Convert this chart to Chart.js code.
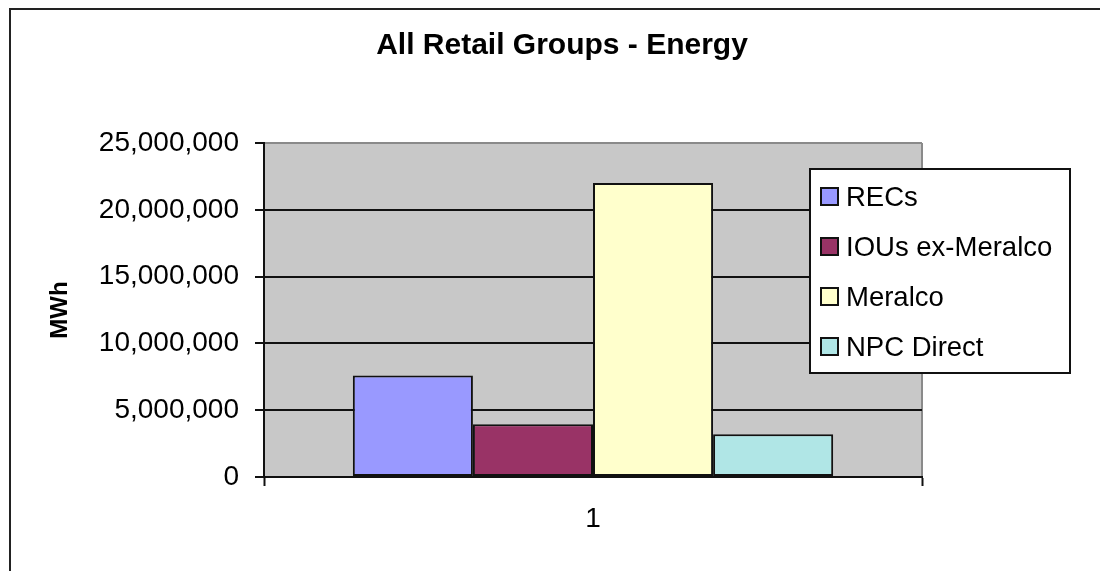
<!DOCTYPE html>
<html>
<head>
<meta charset="utf-8">
<script src="https://cdn.jsdelivr.net/npm/chart.js@4"></script>
<style>
  html, body { margin: 0; padding: 0; background: #fff; }
  #wrap { width: 1100px; height: 571px; }
</style>
</head>
<body>
<div id="wrap"><canvas id="chart" width="1100" height="571"></canvas></div>
<script>
// Chart data
const chartTitle = 'All Retail Groups - Energy';
const categories = ['1'];
const seriesNames = ['RECs', 'IOUs ex-Meralco', 'Meralco', 'NPC Direct'];
const seriesValues = [[7600000], [3950000], [22000000], [3200000]];
const seriesColors = ['#9999ff', '#993366', '#ffffcc', '#b0e6e6'];
const yTicks = [0, 5000000, 10000000, 15000000, 20000000, 25000000];

const FONT = "'Liberation Sans', Arial, sans-serif";

// Background, plot area fill, outer frame, title
const framePlugin = {
    id: 'frame',
    beforeDraw(chart) {
        const { ctx, chartArea: a } = chart;
        ctx.save();
        ctx.fillStyle = '#fff';
        ctx.fillRect(0, 0, chart.width, chart.height);
        ctx.strokeStyle = '#222';
        ctx.lineWidth = 2;
        ctx.strokeRect(10, 9, 1300, 800);
        ctx.fillStyle = '#c8c8c8';
        ctx.fillRect(a.left, a.top, a.right - a.left, a.bottom - a.top);
        ctx.strokeStyle = '#8a8a8a';
        ctx.lineWidth = 2;
        ctx.beginPath();
        ctx.moveTo(a.right, a.top);
        ctx.lineTo(a.right, a.bottom);
        ctx.stroke();
        // title, centred on the whole frame
        ctx.fillStyle = '#000';
        ctx.font = 'bold 30px ' + FONT;
        ctx.textAlign = 'center';
        ctx.textBaseline = 'middle';
        ctx.fillText(chartTitle, 562, 46);
        ctx.restore();
    }
};

// Boxed legend sitting over the right side of the plot
const boxLegend = {
    id: 'boxLegend',
    afterDraw(chart) {
        const { ctx } = chart;
        const x0 = 810, y0 = 169, w = 260, h = 204;
        ctx.save();
        ctx.fillStyle = '#fff';
        ctx.fillRect(x0, y0, w, h);
        ctx.strokeStyle = '#111';
        ctx.lineWidth = 2;
        ctx.strokeRect(x0, y0, w, h);
        ctx.font = '27.5px ' + FONT;
        ctx.textBaseline = 'middle';
        chart.data.datasets.forEach((ds, i) => {
            const cy = y0 + 28 + i * 50;
            ctx.fillStyle = ds.backgroundColor;
            ctx.fillRect(821, cy - 9, 17, 17);
            ctx.strokeStyle = '#111';
            ctx.lineWidth = 2;
            ctx.strokeRect(821, cy - 9, 17, 17);
            ctx.fillStyle = '#000';
            ctx.fillText(ds.label, 846, cy + 1);
        });
        ctx.restore();
    }
};

new Chart(document.getElementById('chart'), {
    type: 'bar',
    data: {
        labels: categories,
        datasets: seriesNames.map((name, i) => ({
            label: name,
            data: seriesValues[i],
            backgroundColor: seriesColors[i],
            borderColor: '#111',
            borderWidth: 2,
            borderSkipped: false,
            categoryPercentage: 0.73,
            barPercentage: 1.0
        }))
    },
    options: {
        responsive: false,
        animation: false,
        layout: { padding: { left: 0, right: 178, top: 143, bottom: 0 } },
        plugins: {
            legend: { display: false },
            tooltip: { enabled: false },
            title: { display: false }
        },
        scales: {
            x: {
                grid: {
                    offset: true,
                    drawOnChartArea: false,
                    tickLength: 9,
                    tickColor: '#111',
                    tickWidth: 2
                },
                border: { color: '#111', width: 2 },
                ticks: { color: '#000', font: { family: FONT, size: 28 }, padding: 16 },
                afterFit(scale) { scale.height = 94; }
            },
            y: {
                min: 0,
                max: 25000000,
                afterBuildTicks(scale) { scale.ticks = yTicks.map(v => ({ value: v })); },
                grid: {
                    color: ctx => (ctx.tick && ctx.tick.value === 25000000) ? '#8a8a8a' : '#111',
                    lineWidth: 2,
                    tickLength: 9,
                    tickColor: '#111',
                    tickWidth: 2
                },
                border: { color: '#111', width: 2 },
                ticks: {
                    color: '#000',
                    font: { family: FONT, size: 28 },
                    padding: 16,
                    callback: v => Number(v).toLocaleString('en-US')
                },
                title: {
                    display: true,
                    text: 'MWh',
                    color: '#000',
                    font: { family: FONT, size: 24, weight: 'bold' },
                    padding: { top: 46, bottom: 0 }
                },
                afterFit(scale) { scale.width = 264; }
            }
        }
    },
    plugins: [framePlugin, boxLegend]
});
</script>
</body>
</html>
